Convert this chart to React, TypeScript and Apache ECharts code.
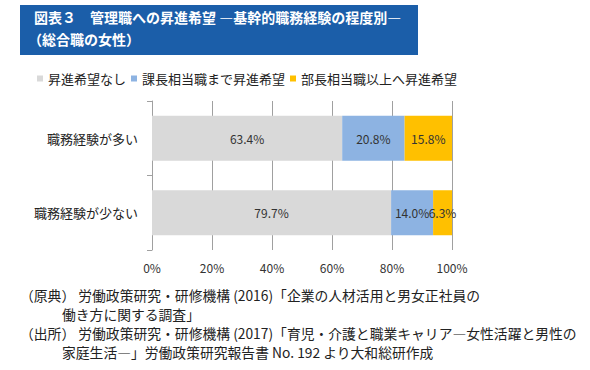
import React, { useEffect, useRef } from "react";
import * as echarts from "echarts";

const categories = ["職務経験が多い", "職務経験が少ない"];
const seriesNames = ["昇進希望なし", "課長相当職まで昇進希望", "部長相当職以上へ昇進希望"];
const noPromotion = [63.4, 79.7];
const toSectionChief = [20.8, 14.0];
const toDeptHead = [15.8, 6.3];
const xTicks = [0, 20, 40, 60, 80, 100];
const colors = ["#d9d9d9", "#8db3e2", "#ffc000"];

const titleLines = [
  "図表３　管理職への昇進希望 ―基幹的職務経験の程度別―",
  "（総合職の女性）",
];
const noteLines = [
  "（原典） 労働政策研究・研修機構 (2016)「企業の人材活用と男女正社員の",
  "働き方に関する調査」",
  "（出所） 労働政策研究・研修機構 (2017)「育児・介護と職業キャリア―女性活躍と男性の",
  "家庭生活―」労働政策研究報告書 No. 192 より大和総研作成",
];

const FONT = "'Noto Sans CJK JP', 'Noto Sans', sans-serif";

export default function App() {
  const ref = useRef<HTMLDivElement>(null);
  useEffect(() => {
    if (!ref.current) return;
    const chart = echarts.init(ref.current, undefined, { renderer: "svg" });
    const data = [noPromotion, toSectionChief, toDeptHead];
    const noteY = [298, 317, 336, 355];
    const noteX = [20, 62, 20, 62];
    chart.setOption({
      animation: false,
      textStyle: { fontFamily: FONT },
      legend: {
        left: 32,
        top: 67,
        icon: "rect",
        itemWidth: 6,
        itemHeight: 6,
        itemGap: 5,
        textStyle: { fontSize: 13, color: "#222", fontFamily: FONT },
        data: seriesNames,
      },
      grid: { left: 152, right: 138, top: 101, bottom: 120, containLabel: false },
      xAxis: {
        type: "value",
        min: 0,
        max: 100,
        interval: 20,
        axisLine: { show: false },
        axisTick: { show: false },
        splitLine: { show: true, lineStyle: { color: "#a0a0a0", width: 1 } },
        axisLabel: {
          formatter: (v: number) => (xTicks.includes(v) ? v + "%" : ""),
          fontSize: 12,
          color: "#333",
          margin: 11,
          fontFamily: FONT,
        },
      },
      yAxis: {
        type: "category",
        inverse: true,
        data: categories,
        axisLine: { show: true, lineStyle: { color: "#a0a0a0", width: 1 } },
        axisTick: { show: true, length: 5, lineStyle: { color: "#a0a0a0" } },
        axisLabel: { fontSize: 13, color: "#222", margin: 14, fontFamily: FONT },
      },
      series: seriesNames.map((name, i) => ({
        name,
        type: "bar",
        stack: "total",
        barWidth: 45,
        itemStyle: { color: colors[i] },
        label: {
          show: true,
          position: "inside",
          formatter: (p: any) => Number(p.value).toFixed(1) + "%",
          fontSize: 12,
          color: "#333",
          fontFamily: FONT,
        },
        data: data[i],
      })),
      graphic: [
        {
          type: "rect",
          left: 20,
          top: 5,
          shape: { width: 398, height: 50 },
          style: { fill: "#1b5ea9" },
        },
        ...titleLines.map((t, i) => ({
          type: "text",
          left: i === 0 ? 34 : 28,
          top: 10 + i * 22,
          style: {
            text: t,
            fill: "#ffffff",
            font: `bold 14px ${FONT}`,
          },
        })),
        ...noteLines.map((t, i) => ({
          type: "text",
          left: noteX[i],
          top: noteY[i] - 10,
          style: {
            text: t,
            fill: "#222",
            font: `13.8px ${FONT}`,
          },
        })),
      ],
    });
    return () => chart.dispose();
  }, []);
  return (
    <div
      ref={ref}
      style={{ position: "absolute", left: 0, top: 0, width: 590, height: 370 }}
    />
  );
}
